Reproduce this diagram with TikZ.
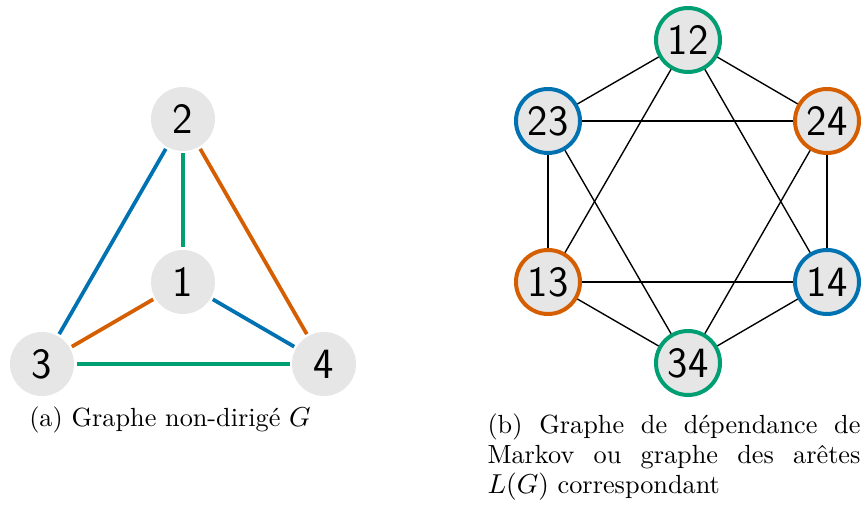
\documentclass[tikz,border=0pt]{standalone}
\usepackage{xcolor}
\definecolor{cblue}{RGB}{0,114,178}
\definecolor{corange}{RGB}{213,94,0}
\definecolor{cgreen}{RGB}{0,158,115}
\definecolor{cgray}{RGB}{230,230,230}
\begin{document}
\begin{tikzpicture}[x=0.4pt,y=-0.4pt,
 vnode/.style={circle,fill=cgray,minimum size=25.6pt,inner sep=0pt,font=\sffamily\LARGE},
 lnode/.style={circle,fill=cgray,draw=#1,line width=1.6pt,minimum size=25.6pt,inner sep=0pt,font=\sffamily\LARGE},
 cedge/.style={line width=1.5pt,draw=#1,shorten <=0.8pt,shorten >=0.8pt},
 bedge/.style={line width=0.55pt,draw=black},
 captext/.style={font=\fontsize{10.5}{12}\selectfont,inner sep=0pt}]
\useasboundingbox (0,0) rectangle (861,505);
% left graph
\node[vnode] (n2) at (183,119) {2};
\node[vnode] (n1) at (183,282) {1};
\node[vnode] (n3) at (42,364) {3};
\node[vnode] (n4) at (324,364) {4};
\draw[cedge=cgreen] (n2) -- (n1);
\draw[cedge=cblue] (n2) -- (n3);
\draw[cedge=corange] (n2) -- (n4);
\draw[cedge=corange] (n1) -- (n3);
\draw[cedge=cblue] (n1) -- (n4);
\draw[cedge=cgreen] (n3) -- (n4);
\node[captext,anchor=base] (capa) at (170,427) {(a) Graphe non-dirigé $G$};
% right graph
\node[lnode=cgreen] (m12) at (688,40) {12};
\node[lnode=cblue] (m23) at (548,121) {23};
\node[lnode=corange] (m24) at (827,121) {24};
\node[lnode=corange] (m13) at (548,282) {13};
\node[lnode=cblue] (m14) at (827,282) {14};
\node[lnode=cgreen] (m34) at (688,363) {34};
\foreach \a/\b in {m12/m23,m12/m24,m12/m13,m12/m14,m23/m24,m23/m13,m23/m34,m24/m14,m24/m34,m13/m14,m13/m34,m14/m34}
  \draw[bedge] (\a) -- (\b);
\node[captext,anchor=north west,text width=149.2pt,align=justify] (capb) at (487,413)
  {(b) Graphe de dépendance de\linebreak Markov ou graphe des arêtes\linebreak $L(G)$ correspondant};
\end{tikzpicture}
\end{document}
